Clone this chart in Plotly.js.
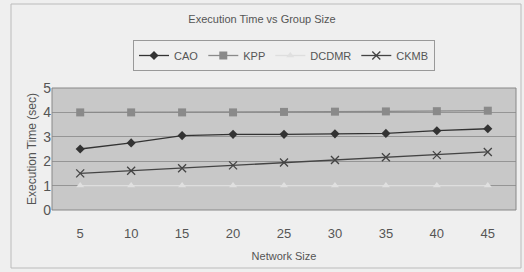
<!DOCTYPE html>
<html><head><meta charset="utf-8">
<script src="https://cdn.plot.ly/plotly-3.0.1.min.js"></script>
<style>html,body{margin:0;padding:0;background:#efefef;}</style>
</head><body>
<div id="chart" style="width:524px;height:272px;"></div>
<script>
const categories = ['5','10','15','20','25','30','35','40','45'];
const cao   = [2.5, 2.75, 3.05, 3.1, 3.1, 3.12, 3.14, 3.25, 3.33];
const kpp   = [4.0, 4.0, 4.0, 4.0, 4.02, 4.03, 4.04, 4.05, 4.07];
const dcdmr = [1.0, 1.0, 1.0, 1.0, 1.0, 1.0, 1.0, 1.0, 1.0];
const ckmb  = [1.5, 1.61, 1.71, 1.83, 1.95, 2.05, 2.16, 2.25, 2.38];

const F = '"Liberation Sans", Arial, sans-serif';
const traces = [
  {name:'CAO', x:categories, y:cao, type:'scatter', mode:'lines+markers',
   line:{color:'#333333', width:1.3}, marker:{symbol:'diamond', size:7, color:'#333333'}},
  {name:'KPP', x:categories, y:kpp, type:'scatter', mode:'lines+markers',
   line:{color:'#8a8a8a', width:1.3}, marker:{symbol:'square', size:8, color:'#8a8a8a'}},
  {name:'DCDMR', x:categories, y:dcdmr, type:'scatter', mode:'lines+markers',
   line:{color:'#dedede', width:1.3}, marker:{symbol:'triangle-up', size:7, color:'#e0e0e0'}},
  {name:'CKMB', x:categories, y:ckmb, type:'scatter', mode:'lines+markers',
   line:{color:'#444444', width:1.3}, marker:{symbol:'x-thin', size:8, color:'#444444', line:{color:'#444444', width:1.3}}}
];
const layout = {
  width:524, height:272,
  margin:{l:52, r:8, t:88, b:62},
  paper_bgcolor:'#efefef', plot_bgcolor:'#c8c8c8',
  font:{family:F, color:'#555555', size:12},
  title:{text:'Execution Time vs Group Size', font:{family:F, size:11, color:'#555555'}, x:0.5, xanchor:'center', y:0.93, yanchor:'middle'},
  showlegend:true,
  legend:{orientation:'h', x:0.5, xanchor:'center', y:1-40/272, yref:'container', yanchor:'top',
          bgcolor:'rgba(0,0,0,0)', bordercolor:'#999999', borderwidth:1,
          font:{family:F, size:11, color:'#555555'}, itemwidth:30, tracegroupgap:0},
  xaxis:{type:'category', showgrid:false, zeroline:false, showline:false, ticks:'',
         tickfont:{size:13, color:'#555555'}, ticklabelstandoff:14,
         title:{text:'Network Size', font:{size:11, color:'#555555'}, standoff:12}},
  yaxis:{range:[0,5], dtick:1, showgrid:true, gridcolor:'#959595', gridwidth:1, zeroline:false,
         showline:false, ticks:'', tickfont:{size:14, color:'#555555'},
         title:{text:'Execution Time (sec)', font:{size:12, color:'#555555'}, standoff:4}},
  shapes:[
    {type:'rect', xref:'paper', yref:'paper', x0:0, x1:1, y0:0, y1:1, line:{color:'#888888', width:1}},
    {type:'rect', xref:'paper', yref:'paper', x0:-41/464, x1:1+5/464, y0:-(268-210)/122, y1:1+(88-4)/122, line:{color:'#bbbbbb', width:1}}
  ]
};
Plotly.newPlot('chart', traces, layout, {displayModeBar:false, staticPlot:true});
</script>
</body></html>
